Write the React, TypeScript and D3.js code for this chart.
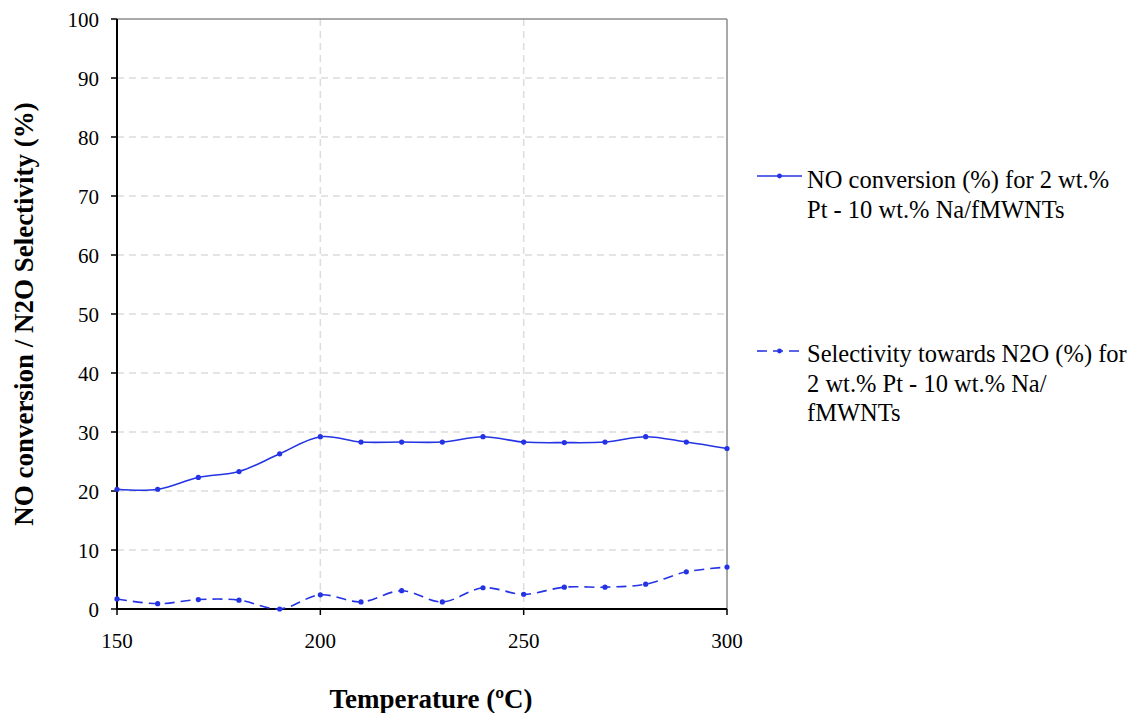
import React from "react";
import * as d3 from "d3";

const temperatures = [150, 160, 170, 180, 190, 200, 210, 220, 230, 240, 250, 260, 270, 280, 290, 300];
const noConversion = [20.3, 20.3, 22.3, 23.3, 26.3, 29.2, 28.3, 28.3, 28.3, 29.2, 28.3, 28.2, 28.3, 29.2, 28.3, 27.2];
const n2oSelectivity = [1.7, 0.9, 1.6, 1.5, 0.0, 2.4, 1.2, 3.1, 1.2, 3.6, 2.5, 3.7, 3.7, 4.2, 6.3, 7.1];
const xTicks = [150, 200, 250, 300];
const yTicks = [0, 10, 20, 30, 40, 50, 60, 70, 80, 90, 100];
const legendNO = ["NO conversion (%) for 2 wt.%", "Pt - 10 wt.% Na/fMWNTs"];
const legendN2O = ["Selectivity towards N2O (%) for", "2 wt.% Pt - 10 wt.% Na/", "fMWNTs"];

const W = 1138;
const H = 713;
const left = 117;
const right = 727;
const top = 19;
const bottom = 609;
const blue = "#2433e3";
const font = "'Liberation Serif', 'Times New Roman', serif";

export default function App() {
  const x = d3.scaleLinear().domain([150, 300]).range([left, right]);
  const y = d3.scaleLinear().domain([0, 100]).range([bottom, top]);
  const line = d3
    .line<[number, number]>()
    .x((d) => x(d[0]))
    .y((d) => y(d[1]))
    .curve(d3.curveCatmullRom.alpha(0.5));
  const noPts = temperatures.map((t, i) => [t, noConversion[i]] as [number, number]);
  const selPts = temperatures.map((t, i) => [t, n2oSelectivity[i]] as [number, number]);

  return (
    <svg
      width={W}
      height={H}
      style={{ position: "absolute", left: 0, top: 0, background: "#fff" }}
      fontFamily={font}
    >
      {/* gridlines */}
      {yTicks.filter((v) => v > 0 && v < 100).map((v) => (
        <line key={"gy" + v} x1={left} x2={right} y1={y(v)} y2={y(v)} stroke="#dcdcdc" strokeWidth={1.5} strokeDasharray="7,5" />
      ))}
      {xTicks.filter((v) => v > 150 && v < 300).map((v) => (
        <line key={"gx" + v} x1={x(v)} x2={x(v)} y1={top} y2={bottom} stroke="#dcdcdc" strokeWidth={1.5} strokeDasharray="7,5" />
      ))}
      {/* plot frame top/right */}
      <line x1={left} x2={right} y1={top} y2={top} stroke="#8c8c8c" strokeWidth={1.5} />
      <line x1={right} x2={right} y1={top} y2={bottom} stroke="#8c8c8c" strokeWidth={1.5} />
      {/* axes */}
      <line x1={left} x2={left} y1={top} y2={bottom} stroke="#000" strokeWidth={2} />
      <line x1={left} x2={right} y1={bottom} y2={bottom} stroke="#000" strokeWidth={2} />
      {yTicks.map((v) => (
        <g key={"ty" + v}>
          <line x1={left - 6} x2={left} y1={y(v)} y2={y(v)} stroke="#000" strokeWidth={1.5} />
          <text x={left - 18} y={y(v) + 8} textAnchor="end" fontSize={21} fill="#000">{v}</text>
        </g>
      ))}
      {xTicks.map((v) => (
        <g key={"tx" + v}>
          <line x1={x(v)} x2={x(v)} y1={bottom} y2={bottom + 6} stroke="#000" strokeWidth={1.5} />
          <text x={x(v)} y={bottom + 39} textAnchor="middle" fontSize={21} fill="#000">{v}</text>
        </g>
      ))}
      {/* series */}
      <path d={line(noPts) ?? ""} fill="none" stroke={blue} strokeWidth={1.6} />
      <path d={line(selPts) ?? ""} fill="none" stroke={blue} strokeWidth={1.6} strokeDasharray="10,6" />
      {noPts.map((p, i) => (
        <circle key={"a" + i} cx={x(p[0])} cy={y(p[1])} r={2.6} fill={blue} />
      ))}
      {selPts.map((p, i) => (
        <circle key={"b" + i} cx={x(p[0])} cy={y(p[1])} r={2.6} fill={blue} />
      ))}
      {/* axis titles */}
      <text x={431} y={708} textAnchor="middle" fontSize={27} fontWeight="bold" fill="#000">
        Temperature (ºC)
      </text>
      <text
        transform={`translate(33, ${(top + bottom) / 2}) rotate(-90)`}
        textAnchor="middle"
        fontSize={27}
        fontWeight="bold"
        fill="#000"
      >
        NO conversion / N2O Selectivity (%)
      </text>
      {/* legend */}
      <line x1={757} x2={802} y1={176} y2={176} stroke={blue} strokeWidth={1.6} />
      <circle cx={779.5} cy={176} r={2.4} fill={blue} />
      {legendNO.map((s, i) => (
        <text key={"l1" + i} x={807} y={188 + i * 30} fontSize={24.5} fill="#000">{s}</text>
      ))}
      <line x1={757} x2={802} y1={351} y2={351} stroke={blue} strokeWidth={1.6} strokeDasharray="10,6" />
      <circle cx={779.5} cy={351} r={2.4} fill={blue} />
      {legendN2O.map((s, i) => (
        <text key={"l2" + i} x={807} y={362 + i * 29.5} fontSize={24.5} fill="#000">{s}</text>
      ))}
    </svg>
  );
}
